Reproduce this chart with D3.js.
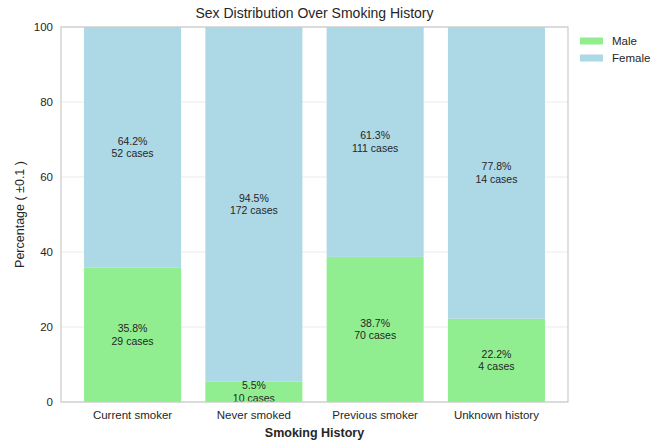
<!DOCTYPE html>
<html><head><meta charset="utf-8">
<script src="https://cdn.jsdelivr.net/npm/d3@7"></script>
<style>body{margin:0;background:#fff;} text{font-family:"Liberation Sans", Arial, sans-serif;}</style>
</head><body>
<svg id="c" width="665" height="445"></svg>
<script>
const categories = ["Current smoker", "Never smoked", "Previous smoker", "Unknown history"];
const malePct = [35.8, 5.5, 38.7, 22.2];
const femalePct = [64.2, 94.5, 61.3, 77.8];
const maleCases = [29, 10, 70, 4];
const femaleCases = [52, 172, 111, 14];
const yTicks = [0, 20, 40, 60, 80, 100];
const seriesNames = ["Male", "Female"];
const colors = {Male: "#90ee90", Female: "#add8e6"};

const svg = d3.select("#c");
const L = 61, R = 568, T = 27, B = 402;
const x = d3.scaleLinear().domain([-0.59, 3.59]).range([L, R]);
const y = d3.scaleLinear().domain([0, 100]).range([B, T]);
const bw = 0.8;
const txt = "#262626";

// grid
svg.append("g").selectAll("line").data(yTicks).join("line")
  .attr("x1", L).attr("x2", R).attr("y1", d => y(d)).attr("y2", d => y(d))
  .attr("stroke", "#ebebeb").attr("stroke-width", 1);

const rows = categories.map((c, i) => ({c, i, m: malePct[i], f: femalePct[i], mc: maleCases[i], fc: femaleCases[i]}));

// male bars
svg.append("g").selectAll("rect").data(rows).join("rect")
  .attr("x", d => x(d.i - bw/2)).attr("width", d => x(d.i + bw/2) - x(d.i - bw/2))
  .attr("y", d => y(d.m)).attr("height", d => y(0) - y(d.m))
  .attr("fill", colors.Male);
// female bars
svg.append("g").selectAll("rect").data(rows).join("rect")
  .attr("x", d => x(d.i - bw/2)).attr("width", d => x(d.i + bw/2) - x(d.i - bw/2))
  .attr("y", d => y(d.m + d.f)).attr("height", d => y(d.m) - y(d.m + d.f))
  .attr("fill", colors.Female);

// labels
function seg(pct, cases, base, i) {
  const cy = y(base + pct / 2);
  const g = svg.append("text").attr("text-anchor", "middle").attr("font-size", 10.5).attr("fill", txt);
  g.append("tspan").attr("x", x(i)).attr("y", cy - 2.5).text(pct.toFixed(1) + "%");
  g.append("tspan").attr("x", x(i)).attr("y", cy + 10).text(cases + " cases");
}
rows.forEach(d => { seg(d.m, d.mc, 0, d.i); seg(d.f, d.fc, d.m, d.i); });

// frame
svg.append("rect").attr("x", L).attr("y", T).attr("width", R - L).attr("height", B - T)
  .attr("fill", "none").attr("stroke", "#cccccc").attr("stroke-width", 1.25);

// y ticks
svg.append("g").selectAll("text").data(yTicks).join("text")
  .attr("x", L - 8).attr("y", d => y(d)).attr("dy", "0.35em").attr("text-anchor", "end")
  .attr("font-size", 11.5).attr("fill", txt).text(d => d);
// x ticks
svg.append("g").selectAll("text").data(rows).join("text")
  .attr("x", d => x(d.i)).attr("y", B + 17).attr("text-anchor", "middle")
  .attr("font-size", 11.5).attr("fill", txt).text(d => d.c);

// axis labels
svg.append("text").attr("x", (L + R) / 2).attr("y", 437).attr("text-anchor", "middle")
  .attr("font-size", 12.5).attr("font-weight", "bold").attr("fill", txt).text("Smoking History");
svg.append("text").attr("transform", `translate(24,${(T + B) / 2}) rotate(-90)`).attr("text-anchor", "middle")
  .attr("font-size", 12.5).attr("fill", txt).text("Percentage ( ±0.1 )");
// title
svg.append("text").attr("x", (L + R) / 2).attr("y", 18).attr("text-anchor", "middle")
  .attr("font-size", 14).attr("fill", txt).text("Sex Distribution Over Smoking History");

// legend
const lg = svg.append("g").selectAll("g").data(seriesNames).join("g")
  .attr("transform", (d, i) => `translate(580,${41 + i * 17})`);
lg.append("rect").attr("x", 0).attr("y", -3.5).attr("width", 23).attr("height", 7).attr("fill", d => colors[d]);
lg.append("text").attr("x", 32).attr("y", 0).attr("dy", "0.35em").attr("font-size", 11.5).attr("fill", txt).text(d => d);
</script>
</body></html>
